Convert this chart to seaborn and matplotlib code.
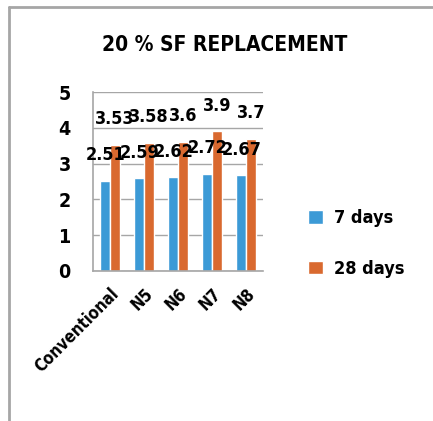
import matplotlib
matplotlib.use("Agg")
import matplotlib.pyplot as plt
import seaborn as sns
import pandas as pd
from matplotlib.lines import Line2D

# data
mixes = ["Conventional", "N5", "N6", "N7", "N8"]
days_7 = [2.51, 2.59, 2.62, 2.72, 2.67]
days_28 = [3.53, 3.58, 3.6, 3.9, 3.7]
series = ["7 days", "28 days"]
colors = ["#3C9AD6", "#D9692F"]

df = pd.DataFrame({
    "Mix": mixes * 2,
    "Strength": days_7 + days_28,
    "Age": [series[0]] * len(mixes) + [series[1]] * len(mixes),
})

sns.set_style("white")
plt.rcParams['font.family'] = ['DejaVu Sans']
plt.rcParams['font.stretch'] = 'condensed'
plt.rcParams['text.color'] = 'black'
plt.rcParams['xtick.labelcolor'] = 'black'
plt.rcParams['ytick.labelcolor'] = 'black'

W, H = 433, 421
fig = plt.figure(figsize=(W / 100, H / 100), dpi=100)
ax = fig.add_axes([93 / W, 1 - 271 / H, 170 / W, 179 / H])

sns.barplot(data=df, x="Mix", y="Strength", hue="Age", palette=colors,
            width=0.56, gap=0, ax=ax, saturation=1)

ax.set_ylim(0, 5)
ax.set_xlim(-0.5, len(mixes) - 0.5)
ax.set_yticks(range(0, 6))
ax.yaxis.grid(True, color="#A6A6A6", lw=1)
ax.set_axisbelow(True)
for s in ["top", "right"]:
    ax.spines[s].set_visible(False)
for s in ["left", "bottom"]:
    ax.spines[s].set_color("#A6A6A6")
    ax.spines[s].set_linewidth(1.2)

ax.set_xlabel("")
ax.set_ylabel("")
ax.set_xticks(range(len(mixes)))
ax.set_xticklabels(mixes, rotation=45, ha="right", rotation_mode="anchor",
                   fontsize=12, fontweight="bold")
ax.tick_params(axis="x", which="major", length=0, pad=10)
ax.set_xticks([i - 0.5 for i in range(len(mixes) + 1)], minor=True)
ax.tick_params(axis="x", which="minor", length=5, color="#A6A6A6", direction="out")
ax.tick_params(axis="y", length=5, color="#A6A6A6", direction="out", pad=11,
               labelsize=14)
for lbl in ax.get_yticklabels():
    lbl.set_fontweight("bold")

for cont in ax.containers:
    ax.bar_label(cont, fmt="%g", padding=12, fontsize=13, fontweight="bold")

ax.legend(loc="upper left", bbox_to_anchor=(292 / W, 1 - 193 / H),
          bbox_transform=fig.transFigure, frameon=False,
          handlelength=0.8, handleheight=0.8, handletextpad=0.6,
          labelspacing=1.8, prop={"size": 13, "weight": "bold"})

fig.text(0.52, 1 - 45 / H, "20 % SF REPLACEMENT", ha="center", va="center",
         fontsize=15, fontweight="bold")

# thin grey frame on the left and top edges
fig.add_artist(Line2D([9 / W, 9 / W], [0, 1 - 7 / H], transform=fig.transFigure,
                      color="#A6A6A6", lw=2))
fig.add_artist(Line2D([9 / W, 1], [1 - 7 / H, 1 - 7 / H], transform=fig.transFigure,
                      color="#A6A6A6", lw=2))

fig.savefig("out.png", dpi=100)
